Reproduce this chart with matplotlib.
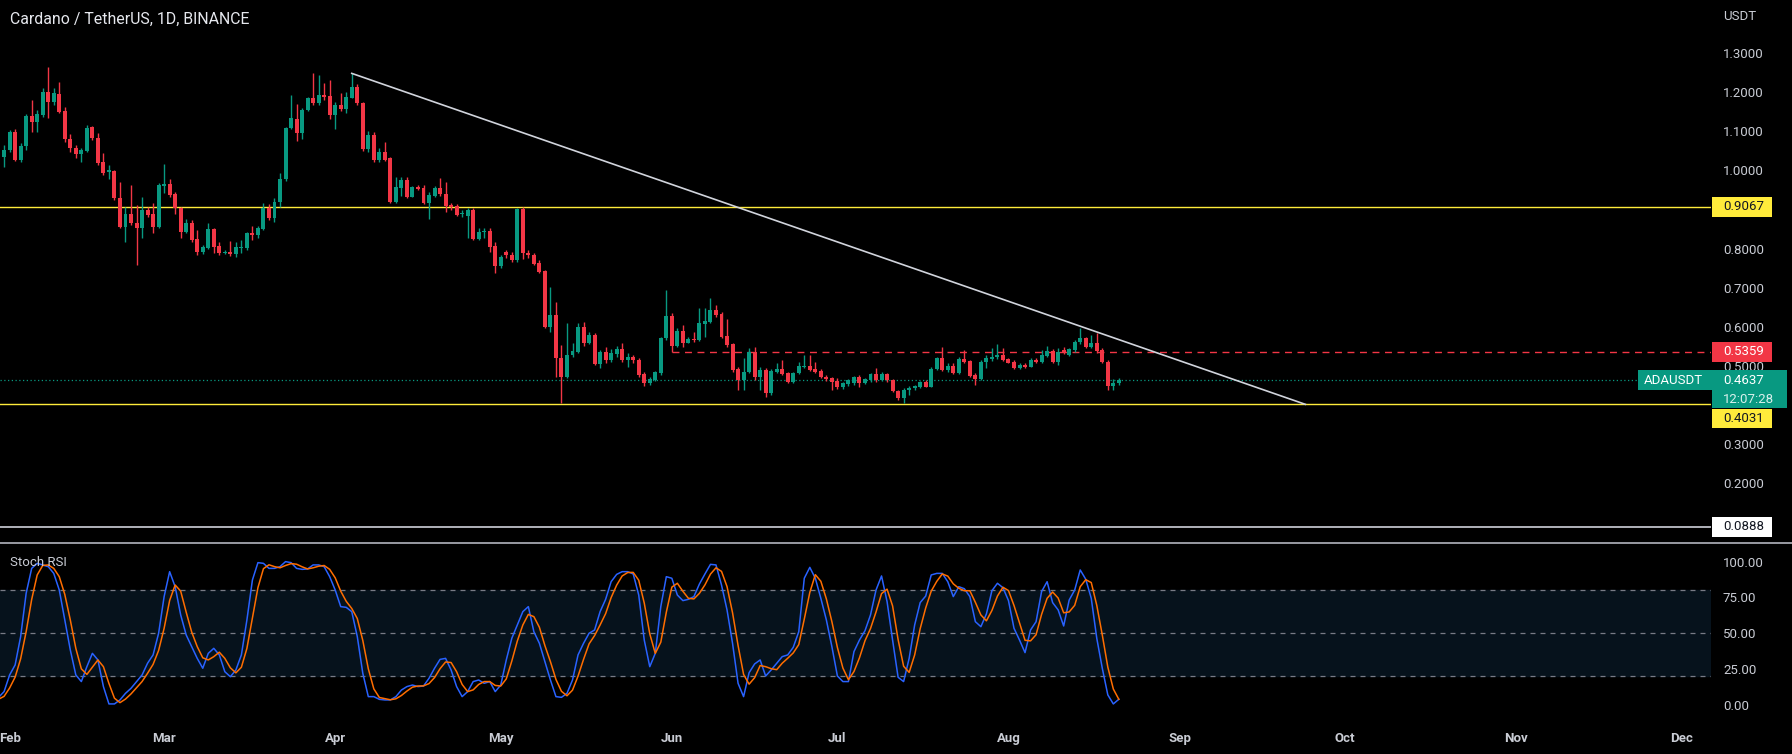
import numpy as np
import pandas as pd
import matplotlib
matplotlib.use("Agg")
import matplotlib.pyplot as plt
import matplotlib.dates as mdates
from matplotlib.patches import Rectangle

plt.rcParams['font.family'] = ['Roboto', 'DejaVu Sans']

# daily ADA/USDT candles, 2022-01-31 .. 2022-08-21
candle_start = "2022-01-31"
opens = [
    1.0347, 1.0517, 1.0969, 1.0262, 1.0628, 1.1386, 1.1241, 1.1412, 1.1991, 1.1752,
    1.1940, 1.1514, 1.0790, 1.0577, 1.0415, 1.0492, 1.1105, 1.0832, 1.0202, 0.9963,
    0.9981, 0.9299, 0.8558, 0.8873, 0.8660, 0.8515, 0.8984, 0.8873, 0.8558, 0.9606,
    0.9640, 0.9384, 0.9026, 0.8430, 0.8643, 0.8234, 0.7902, 0.8021, 0.8498, 0.8064,
    0.7876, 0.7919, 0.7859, 0.8013, 0.8004, 0.8387, 0.8345, 0.8498, 0.9026, 0.8788,
    0.9180, 0.9776, 1.1088, 1.1301, 1.0960, 1.1539, 1.1855, 1.1710, 1.1923, 1.1897,
    1.1412, 1.1667, 1.1565, 1.1855, 1.2136, 1.1710, 1.0534, 1.0901, 1.0262, 1.0458,
    1.0305, 0.9198, 0.9538, 0.9751, 0.9325, 0.9581, 0.9538, 0.9155, 0.9351, 0.9555,
    0.9385, 0.9113, 0.9087, 0.8874, 0.8840, 0.8985, 0.8243, 0.8422, 0.8448, 0.8065,
    0.7562, 0.7920, 0.7835, 0.7707, 0.9010, 0.7894, 0.7835, 0.7639, 0.7426, 0.6003,
    0.6301, 0.5194, 0.4725, 0.5279, 0.5364, 0.6003, 0.5577, 0.5790, 0.5049, 0.5356,
    0.5151, 0.5296, 0.5424, 0.5151, 0.5219, 0.5151, 0.4785, 0.4572, 0.4640, 0.4811,
    0.5705, 0.6276, 0.5509, 0.5901, 0.5594, 0.5679, 0.5662, 0.6071, 0.6131, 0.6429,
    0.6327, 0.5765, 0.5552, 0.4913, 0.4640, 0.4853, 0.5363, 0.4725, 0.4895, 0.4299,
    0.4852, 0.4912, 0.4810, 0.4597, 0.4810, 0.4963, 0.4997, 0.4912, 0.4878, 0.4725,
    0.4682, 0.4614, 0.4452, 0.4537, 0.4554, 0.4708, 0.4571, 0.4639, 0.4784, 0.4639,
    0.4784, 0.4639, 0.4367, 0.4171, 0.4384, 0.4426, 0.4469, 0.4597, 0.4469, 0.4912,
    0.5193, 0.4895, 0.4997, 0.4810, 0.5168, 0.5125, 0.4767, 0.4656, 0.5108, 0.5168,
    0.5219, 0.5278, 0.5168, 0.5108, 0.4938, 0.5023, 0.4980, 0.5151, 0.5108, 0.5253,
    0.5389, 0.5108, 0.5406, 0.5278, 0.5406, 0.5602, 0.5704, 0.5491, 0.5576, 0.5406,
    0.5108, 0.4486, 0.4554,
]
highs = [
    1.0645, 1.1028, 1.1054, 1.0688, 1.1429, 1.1795, 1.1539, 1.2093, 1.2647, 1.2093,
    1.2246, 1.1625, 1.0918, 1.0645, 1.0560, 1.1156, 1.1139, 1.0943, 1.0432, 1.0134,
    1.0006, 0.9708, 0.9069, 0.9623, 0.9112, 0.9325, 0.9069, 0.9154, 0.9665, 1.0151,
    0.9768, 0.9452, 0.9069, 0.8754, 0.8728, 0.8473, 0.8089, 0.8643, 0.8532, 0.8175,
    0.7962, 0.8200, 0.8175, 0.8217, 0.8430, 0.8583, 0.8583, 0.9154, 0.9129, 0.9299,
    0.9921, 1.1113, 1.1923, 1.1684, 1.1582, 1.1880, 1.2476, 1.2434, 1.2221, 1.2306,
    1.1752, 1.1965, 1.1991, 1.2476, 1.2195, 1.1752, 1.1003, 1.0986, 1.0560, 1.0731,
    1.0348, 0.9836, 0.9836, 0.9836, 0.9598, 0.9624, 0.9624, 0.9453, 0.9598, 0.9794,
    0.9709, 0.9155, 0.9138, 0.8985, 0.9027, 0.9027, 0.8516, 0.8516, 0.8516, 0.8175,
    0.7835, 0.7962, 0.7920, 0.9027, 0.9070, 0.7962, 0.7877, 0.7707, 0.7451, 0.7025,
    0.6642, 0.5535, 0.6088, 0.5577, 0.6088, 0.6131, 0.5875, 0.5833, 0.5407, 0.5475,
    0.5424, 0.5509, 0.5594, 0.5322, 0.5279, 0.5194, 0.4853, 0.4725, 0.4879, 0.5747,
    0.6940, 0.6344, 0.5960, 0.6046, 0.5747, 0.5875, 0.6472, 0.6472, 0.6727, 0.6557,
    0.6386, 0.6190, 0.5594, 0.4981, 0.5194, 0.5449, 0.5491, 0.4963, 0.4938, 0.4912,
    0.5065, 0.5151, 0.4852, 0.4852, 0.5108, 0.5278, 0.5278, 0.5108, 0.4912, 0.4767,
    0.4725, 0.4682, 0.4597, 0.4656, 0.4742, 0.4767, 0.4697, 0.4810, 0.4938, 0.4852,
    0.4810, 0.4656, 0.4384, 0.4426, 0.4486, 0.4512, 0.4622, 0.4639, 0.4963, 0.5236,
    0.5491, 0.5065, 0.5065, 0.5219, 0.5406, 0.5151, 0.4810, 0.5151, 0.5278, 0.5449,
    0.5559, 0.5449, 0.5210, 0.5151, 0.5065, 0.5065, 0.5193, 0.5193, 0.5406, 0.5508,
    0.5423, 0.5449, 0.5491, 0.5449, 0.5662, 0.5960, 0.5747, 0.5789, 0.5849, 0.5449,
    0.5151, 0.4656, 0.4680,
]
lows = [
    1.0091, 1.0475, 1.0236, 1.0219, 1.0517, 1.0986, 1.0986, 1.1369, 1.1326, 1.1667,
    1.1454, 1.0713, 1.0475, 1.0321, 1.0202, 1.0458, 1.0773, 1.0134, 0.9878, 0.9776,
    0.9239, 0.8515, 0.8175, 0.8600, 0.7578, 0.8277, 0.8813, 0.8387, 0.8515, 0.9410,
    0.9325, 0.8873, 0.8277, 0.8387, 0.8175, 0.7834, 0.7851, 0.7987, 0.7876, 0.7834,
    0.7851, 0.7817, 0.7791, 0.7876, 0.7962, 0.8217, 0.8260, 0.8473, 0.8728, 0.8686,
    0.9069, 0.9725, 1.1054, 1.0747, 1.0798, 1.1514, 1.1667, 1.1667, 1.1795, 1.1309,
    1.1054, 1.1514, 1.1454, 1.1838, 1.1667, 1.0492, 1.0475, 1.0219, 1.0219, 1.0245,
    0.9155, 0.9172, 0.9342, 0.9283, 0.9308, 0.9496, 0.9138, 0.8746, 0.9325, 0.9342,
    0.8942, 0.8985, 0.8831, 0.8797, 0.8261, 0.8218, 0.8218, 0.8261, 0.7920, 0.7366,
    0.7494, 0.7750, 0.7664, 0.7664, 0.7724, 0.7750, 0.7579, 0.7366, 0.5960, 0.5875,
    0.4725, 0.4044, 0.4683, 0.5236, 0.5322, 0.5509, 0.5560, 0.5023, 0.4938, 0.5083,
    0.5109, 0.5236, 0.5109, 0.4981, 0.5083, 0.4725, 0.4487, 0.4512, 0.4623, 0.4768,
    0.5662, 0.5364, 0.5475, 0.5492, 0.5577, 0.5620, 0.5645, 0.5747, 0.6088, 0.6259,
    0.5705, 0.5492, 0.4853, 0.4384, 0.4384, 0.4810, 0.4639, 0.4384, 0.4196, 0.4256,
    0.4827, 0.4767, 0.4571, 0.4554, 0.4793, 0.4938, 0.4878, 0.4810, 0.4682, 0.4614,
    0.4384, 0.4401, 0.4401, 0.4486, 0.4512, 0.4469, 0.4537, 0.4597, 0.4597, 0.4622,
    0.4597, 0.4341, 0.4128, 0.4043, 0.4256, 0.4384, 0.4426, 0.4452, 0.4452, 0.4895,
    0.4878, 0.4852, 0.4793, 0.4793, 0.5082, 0.4708, 0.4512, 0.4639, 0.4938, 0.5133,
    0.5185, 0.5133, 0.5065, 0.4912, 0.4912, 0.4938, 0.4963, 0.5082, 0.5082, 0.5219,
    0.5065, 0.5023, 0.5304, 0.5253, 0.5363, 0.5559, 0.5449, 0.5449, 0.5338, 0.5082,
    0.4384, 0.4384, 0.4510,
]
closes = [
    1.0517, 1.0969, 1.0262, 1.0628, 1.1386, 1.1241, 1.1429, 1.1991, 1.1752, 1.1965,
    1.1497, 1.0790, 1.0577, 1.0415, 1.0517, 1.1088, 1.0815, 1.0176, 0.9921, 0.9998,
    0.9282, 0.8558, 0.8873, 0.8660, 0.8515, 0.8984, 0.8856, 0.8558, 0.9623, 0.9657,
    0.9367, 0.9026, 0.8430, 0.8643, 0.8217, 0.7919, 0.8030, 0.8498, 0.8047, 0.7876,
    0.7902, 0.7851, 0.8030, 0.8038, 0.8387, 0.8345, 0.8515, 0.9026, 0.8788, 0.9197,
    0.9776, 1.1088, 1.1344, 1.0960, 1.1539, 1.1855, 1.1710, 1.1923, 1.1880, 1.1412,
    1.1667, 1.1565, 1.1880, 1.2136, 1.1710, 1.0534, 1.0901, 1.0262, 1.0475, 1.0262,
    0.9198, 0.9581, 0.9751, 0.9325, 0.9581, 0.9513, 0.9155, 0.9368, 0.9555, 0.9385,
    0.9087, 0.9070, 0.8857, 0.8899, 0.8985, 0.8243, 0.8414, 0.8448, 0.8048, 0.7562,
    0.7775, 0.7835, 0.7707, 0.9010, 0.7877, 0.7835, 0.7605, 0.7409, 0.6003, 0.6301,
    0.5194, 0.4725, 0.5279, 0.5381, 0.6003, 0.5577, 0.5790, 0.5049, 0.5356, 0.5151,
    0.5322, 0.5424, 0.5151, 0.5236, 0.5151, 0.4768, 0.4572, 0.4657, 0.4836, 0.5705,
    0.6276, 0.5509, 0.5901, 0.5594, 0.5679, 0.5662, 0.6088, 0.6156, 0.6429, 0.6301,
    0.5747, 0.5535, 0.4896, 0.4640, 0.4853, 0.5363, 0.4725, 0.4895, 0.4299, 0.4878,
    0.4912, 0.4793, 0.4597, 0.4810, 0.4997, 0.4997, 0.4895, 0.4852, 0.4708, 0.4656,
    0.4597, 0.4452, 0.4554, 0.4639, 0.4708, 0.4571, 0.4656, 0.4784, 0.4639, 0.4784,
    0.4639, 0.4367, 0.4171, 0.4384, 0.4443, 0.4486, 0.4597, 0.4469, 0.4912, 0.5193,
    0.4895, 0.4997, 0.4810, 0.5168, 0.5108, 0.4742, 0.4656, 0.5108, 0.5193, 0.5236,
    0.5278, 0.5151, 0.5082, 0.4938, 0.5023, 0.4963, 0.5151, 0.5108, 0.5278, 0.5389,
    0.5108, 0.5363, 0.5338, 0.5423, 0.5619, 0.5704, 0.5491, 0.5576, 0.5389, 0.5108,
    0.4486, 0.4554, 0.4637,
]

# Stoch RSI, 2022-01-30 .. 2022-08-21
stoch_start = "2022-01-30"
stoch_k = [
    5.3, 9.3, 20.9, 27.9, 47.7, 77.9, 95.3, 98.8, 97.7, 96.5,
    91.8, 80.2, 59.3, 38.4, 20.9, 16.3, 26.7, 36.0, 31.4, 12.8,
    0.7, 0.7, 3.5, 8.1, 11.6, 16.3, 20.9, 29.1, 34.9, 50.0,
    75.6, 93.0, 82.5, 62.8, 48.8, 40.7, 32.5, 25.6, 36.0, 39.5,
    34.9, 23.2, 19.7, 24.4, 34.9, 59.3, 87.2, 99.3, 98.8, 95.3,
    95.3, 96.5, 100.0, 99.3, 95.3, 94.6, 94.9, 97.7, 97.7, 96.5,
    89.5, 80.2, 68.6, 68.1, 65.1, 47.7, 22.1, 5.8, 5.8, 3.9,
    3.5, 3.5, 5.8, 10.4, 12.8, 13.9, 12.8, 13.2, 18.6, 25.6,
    31.8, 32.5, 24.4, 12.8, 5.8, 9.3, 16.3, 17.4, 15.1, 16.3,
    9.3, 13.9, 31.4, 46.5, 55.8, 65.1, 68.6, 51.1, 43.0, 30.2,
    17.4, 5.8, 5.3, 8.1, 17.4, 34.9, 43.0, 50.0, 52.3, 65.1,
    73.7, 86.0, 91.1, 93.0, 93.0, 91.4, 76.7, 45.3, 26.7, 36.0,
    68.6, 89.5, 88.4, 76.7, 72.8, 73.7, 75.6, 84.4, 91.4, 98.1,
    97.7, 83.7, 66.3, 43.0, 15.1, 5.8, 22.5, 28.6, 31.4, 20.2,
    24.4, 29.1, 33.7, 34.9, 40.2, 51.1, 88.4, 96.0, 88.4, 74.4,
    59.3, 40.7, 20.2, 16.3, 16.3, 37.2, 45.3, 51.8, 62.8, 80.2,
    90.0, 72.1, 45.3, 19.3, 16.3, 32.5, 55.8, 71.4, 76.0, 90.7,
    91.8, 91.8, 86.0, 75.6, 82.5, 81.1, 75.6, 58.1, 54.6, 63.5,
    79.7, 84.9, 81.8, 72.8, 53.5, 45.3, 36.5, 52.3, 58.1, 79.1,
    86.0, 71.4, 66.3, 55.1, 73.2, 80.2, 94.2, 87.7, 74.4, 46.5,
    25.6, 7.0, 0.7, 4.0,
]
stoch_d = [
    4.0, 6.0, 11.8, 19.4, 32.2, 51.2, 73.6, 90.7, 97.3, 97.7,
    95.3, 89.5, 77.1, 59.3, 39.5, 25.2, 21.3, 26.3, 31.4, 26.7,
    15.0, 4.7, 1.6, 4.1, 7.7, 12.0, 16.3, 22.1, 28.3, 38.0,
    53.5, 72.9, 83.7, 79.4, 64.7, 50.8, 40.7, 32.9, 31.4, 33.7,
    36.8, 32.5, 25.9, 22.4, 26.3, 39.5, 60.5, 81.9, 95.1, 97.8,
    96.5, 95.7, 97.3, 98.6, 98.2, 96.4, 94.9, 95.7, 96.8, 97.3,
    94.6, 88.7, 79.4, 72.3, 67.3, 60.3, 45.0, 25.2, 11.2, 5.2,
    4.4, 3.6, 4.3, 6.6, 9.7, 12.4, 13.2, 13.3, 14.9, 19.1,
    25.3, 30.0, 29.6, 23.2, 14.3, 9.3, 10.5, 14.3, 16.3, 16.3,
    13.6, 13.2, 18.2, 30.6, 44.6, 55.8, 63.2, 61.6, 54.2, 41.4,
    30.2, 17.8, 9.5, 6.4, 10.3, 20.1, 31.8, 42.6, 48.4, 55.8,
    63.7, 74.9, 83.6, 90.0, 92.4, 92.5, 87.0, 71.1, 49.6, 36.0,
    43.8, 64.7, 82.2, 84.9, 79.3, 74.4, 74.0, 77.9, 83.8, 91.3,
    95.7, 93.2, 82.6, 64.3, 41.5, 21.3, 14.5, 19.0, 27.5, 26.7,
    25.3, 24.6, 29.1, 32.6, 36.3, 42.1, 59.9, 78.5, 90.9, 86.3,
    74.0, 58.1, 40.1, 25.7, 17.6, 23.3, 32.9, 44.8, 53.3, 64.9,
    77.7, 80.8, 69.1, 45.6, 27.0, 22.7, 34.9, 53.2, 67.7, 79.4,
    86.2, 91.4, 89.9, 84.5, 81.4, 79.7, 79.7, 71.6, 62.8, 58.7,
    65.9, 76.0, 82.1, 79.8, 69.4, 57.2, 45.1, 44.7, 49.0, 63.2,
    74.4, 78.8, 74.6, 64.3, 64.9, 69.5, 82.5, 87.4, 85.4, 69.5,
    48.8, 26.4, 11.1, 3.9,
]

# drawn levels
support_levels = [0.9067, 0.4031]
floor_level = 0.0888
resistance_level = 0.5359
resistance_from = "2022-06-01"
last_price = 0.4637
countdown = "12:07:28"
trend_dates = ["2022-04-04 00:00", "2022-09-23 19:00"]
trend_prices = [1.2476, 0.4018]

# 0.9 and 0.4 are hidden behind the level tags on the original
price_ticks = [0.2, 0.3, 0.5, 0.6, 0.7, 0.8, 1.0, 1.1, 1.2, 1.3]
stoch_ticks = [0, 25, 50, 75, 100]
stoch_tick_labels = ["0.00", "25.00", "50.00", "75.00", "100.00"]
month_starts = ["2022-02-01", "2022-03-01", "2022-04-01", "2022-05-01", "2022-06-01", "2022-07-01",
                "2022-08-01", "2022-09-01", "2022-10-01", "2022-11-01", "2022-12-01"]
month_labels = ["Feb", "Mar", "Apr", "May", "Jun", "Jul", "Aug", "Sep", "Oct", "Nov", "Dec"]

UP, DOWN = "#089981", "#f23645"
YELLOW = "#ffeb3b"
TXT = "#c9ccd4"

W, H = 1792, 754
fig = plt.figure(figsize=(W / 100, H / 100), dpi=100, facecolor="black")
ax = fig.add_axes([0, 1 - 542 / H, 1711 / W, 542 / H], facecolor="black")
ax2 = fig.add_axes([0, 30 / H, 1711 / W, 181 / H], facecolor="black")

cx = mdates.date2num(pd.date_range(candle_start, periods=len(closes), freq="D"))
sx = mdates.date2num(pd.date_range(stoch_start, periods=len(stoch_k), freq="D"))
o, h, l, c = map(np.array, (opens, highs, lows, closes))
cols = np.where(c >= o, UP, DOWN)

feb1 = mdates.date2num(pd.Timestamp("2022-02-01"))
xlim = (feb1 - 1.74, feb1 + 308.3)
for a in (ax, ax2):
    a.set_xlim(*xlim)
    for s in a.spines.values():
        s.set_visible(False)

# candles
ax.vlines(cx, l, h, colors=cols, lw=1, zorder=3)
ax.bar(cx, np.maximum(np.abs(c - o), 0.0025), bottom=np.minimum(o, c), width=0.72,
       color=cols, zorder=4, linewidth=0)

# levels and trend line
for lvl in support_levels:
    ax.axhline(lvl, color=YELLOW, lw=1.0, zorder=2)
ax.axhline(floor_level, color="#e0e3eb", lw=1.1, zorder=2)
ax.axhline(last_price, color=UP, lw=0.9, ls=(0, (1, 2)), zorder=2)
ax.plot([mdates.date2num(pd.Timestamp(resistance_from)), xlim[1]], [resistance_level] * 2,
        color=DOWN, lw=1, ls=(0, (5, 4)), zorder=2)
trend_x = [mdates.date2num(pd.Timestamp(t)) for t in trend_dates]
ax.plot(trend_x, trend_prices, color="#d1d4dc", lw=1.2, zorder=5)

ax.set_ylim(0.0500, 1.4351)
ax.yaxis.tick_right()
ax.set_yticks(price_ticks)
ax.set_yticklabels([f"{t:.4f}" for t in price_ticks])
ax.tick_params(axis="y", length=0, pad=8.6, labelsize=9.5, labelcolor=TXT)
ax.set_xticks([])

# stoch rsi panel
ax2.set_ylim(-13.3, 113.0)
ax2.axhspan(20, 80, color="#06121c", zorder=0)
for lvl in (20, 50, 80):
    ax2.axhline(lvl, color="#787b86", lw=0.9, ls=(0, (4, 4)), zorder=1)
ax2.plot(sx, stoch_k, color="#2962ff", lw=1.1, zorder=3)
ax2.plot(sx, stoch_d, color="#ff6d00", lw=1.1, zorder=3)
ax2.yaxis.tick_right()
ax2.set_yticks(stoch_ticks)
ax2.set_yticklabels(stoch_tick_labels)
ax2.tick_params(axis="y", length=0, pad=8.6, labelsize=9.5, labelcolor=TXT)
ax2.set_xticks([mdates.date2num(pd.Timestamp(m)) for m in month_starts])
ax2.set_xticklabels(month_labels, fontweight="bold")
ax2.tick_params(axis="x", length=0, pad=6, labelsize=9.5, labelcolor=TXT)

# overlay for title, separator and price labels (pixel coords)
ov = fig.add_axes([0, 0, 1, 1], zorder=10)
ov.set_xlim(0, W)
ov.set_ylim(0, H)
ov.axis("off")
ov.patch.set_alpha(0)

ov.text(10, H - 19, "Cardano / TetherUS, 1D, BINANCE", color="#e6e8ee", fontsize=11.4, va="center")
ov.text(1723, H - 17, "USDT", color=TXT, fontsize=9.5, va="center")
ov.text(10, H - 563, "Stoch RSI", color=TXT, fontsize=9.5, va="center")
ov.plot([0, W], [H - 542.5] * 2, color="#b2b5be", lw=1.2)


def ypix(p):
    return ax.transData.transform((xlim[0], p))[1]


def tag(y, text, fc, tc, x0=1712, w=60, hgt=20):
    ov.add_patch(Rectangle((x0, y - hgt / 2), w, hgt, fc=fc, ec="none", zorder=11))
    ov.text(1723, y, text, color=tc, fontsize=9.5, va="center", ha="left", zorder=12)


tag(ypix(support_levels[0]), f"{support_levels[0]:.4f}", YELLOW, "#131722")
tag(ypix(resistance_level), f"{resistance_level:.4f}", DOWN, "white")
tag(ypix(support_levels[1]) - 15, f"{support_levels[1]:.4f}", YELLOW, "#131722", hgt=19)
tag(ypix(floor_level), f"{floor_level:.4f}", "white", "#131722")

yl = ypix(last_price)
ov.add_patch(Rectangle((1638, yl - 10), 74, 20, fc=UP, ec="none", zorder=11))
ov.text(1644, yl, "ADAUSDT", color="white", fontsize=9.5, va="center", zorder=12)
ov.add_patch(Rectangle((1712, yl - 28), 75, 38, fc=UP, ec="none", zorder=11))
ov.text(1723, yl, f"{last_price:.4f}", color="white", fontsize=9.5, va="center", zorder=12)
ov.text(1723, yl - 19, countdown, color="#d8f0ec", fontsize=9.5, va="center", zorder=12)

fig.savefig("out.png", dpi=100, facecolor="black")
